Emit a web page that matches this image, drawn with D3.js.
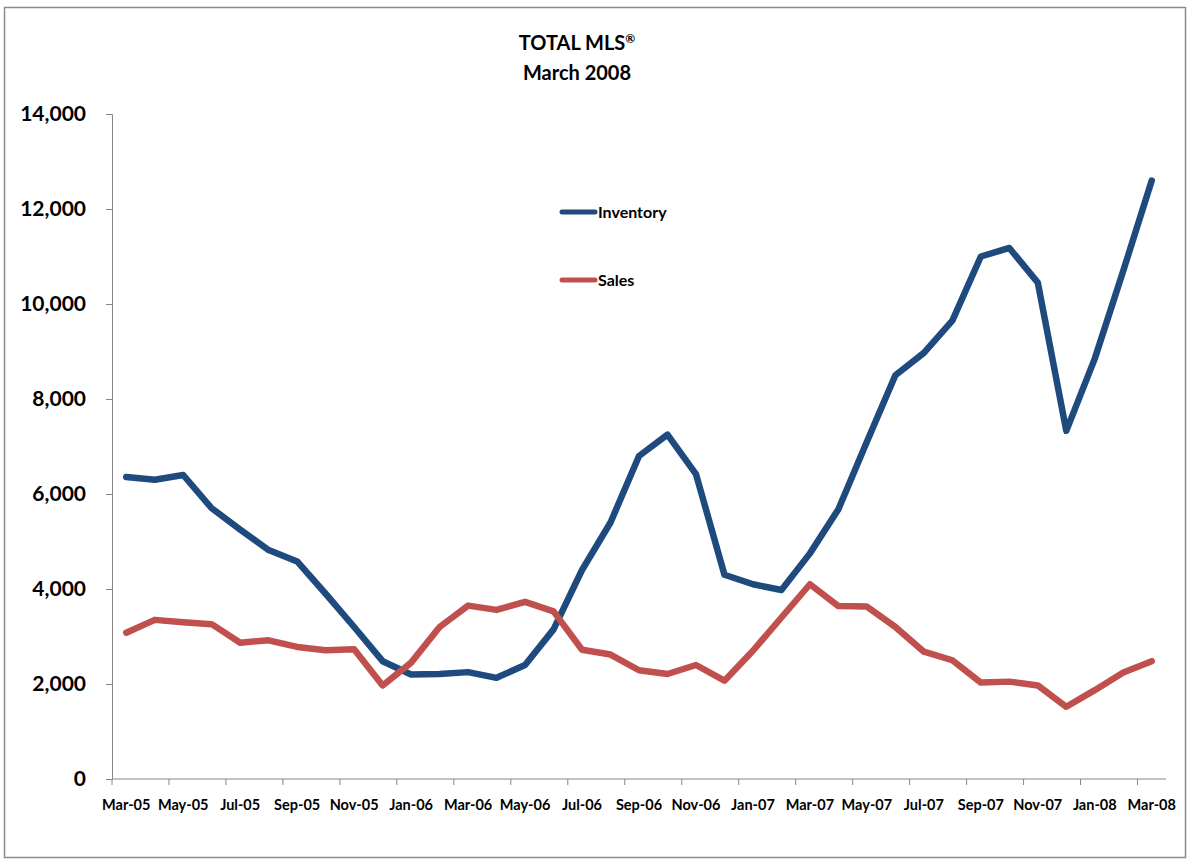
<!DOCTYPE html>
<html>
<head>
<meta charset="utf-8">
<script src="https://cdn.jsdelivr.net/npm/d3@7"></script>
<style>
  html, body { margin: 0; padding: 0; background: #fff; }
  svg { display: block; }
  text { font-family: Lato, "Open Sans", "Liberation Sans", sans-serif; font-weight: bold; fill: #000; }
</style>
</head>
<body>
<svg id="chart" width="1188" height="861"></svg>
<script>
// Monthly categories, Mar-05 through Mar-08
const months = ["Mar-05","Apr-05","May-05","Jun-05","Jul-05","Aug-05","Sep-05","Oct-05","Nov-05","Dec-05",
  "Jan-06","Feb-06","Mar-06","Apr-06","May-06","Jun-06","Jul-06","Aug-06","Sep-06","Oct-06","Nov-06","Dec-06",
  "Jan-07","Feb-07","Mar-07","Apr-07","May-07","Jun-07","Jul-07","Aug-07","Sep-07","Oct-07","Nov-07","Dec-07",
  "Jan-08","Feb-08","Mar-08"];

const inventory = [6360, 6300, 6400, 5700, 5250, 4820, 4580, 3900, 3200, 2480,
  2200, 2210, 2250, 2130, 2400, 3150, 4400, 5400, 6800, 7250, 6420, 4300,
  4100, 3980, 4750, 5680, 7100, 8500, 8970, 9650, 11000, 11180, 10450, 7330,
  8850, 10700, 12600];

const sales = [3080, 3350, 3300, 3260, 2870, 2920, 2780, 2710, 2730, 1970,
  2450, 3200, 3650, 3560, 3730, 3530, 2720, 2620, 2290, 2210, 2400, 2070,
  2700, 3400, 4100, 3640, 3630, 3200, 2680, 2500, 2030, 2050, 1970, 1520,
  1870, 2240, 2480];

const yTicks = [0, 2000, 4000, 6000, 8000, 10000, 12000, 14000];

const seriesList = [
  { name: "Inventory", values: inventory, color: "#1F4A7E" },
  { name: "Sales", values: sales, color: "#C0504D" }
];

const svg = d3.select("#chart");
const plot = { left: 112, right: 1166, top: 114, bottom: 779 };

// Outer chart frame
svg.append("rect")
  .attr("x", 4.5).attr("y", 7.5)
  .attr("width", 1181).attr("height", 850)
  .attr("fill", "none").attr("stroke", "#8c8c8c").attr("stroke-width", 1.5);

const x = d3.scaleBand().domain(months).range([plot.left, plot.right]).padding(0);
const y = d3.scaleLinear().domain([0, 14000]).range([plot.bottom, plot.top]);
const cx = m => x(m) + x.bandwidth() / 2;

// Title
const title = svg.append("text").attr("text-anchor", "middle").style("font-size", "20px");
const t1 = title.append("tspan").attr("x", 577).attr("y", 50);
t1.append("tspan").text("TOTAL MLS");
t1.append("tspan").attr("dy", -7).style("font-size", "12px").text("®");
title.append("tspan").attr("x", 577).attr("y", 80).text("March 2008");

// Y axis
const yAxis = svg.append("g")
  .attr("transform", `translate(${plot.left},0)`)
  .call(d3.axisLeft(y).tickValues(yTicks).tickSize(6).tickPadding(20).tickFormat(d3.format(",")));
yAxis.select(".domain").attr("stroke", "#868686");
yAxis.selectAll(".tick line").attr("stroke", "#868686");
yAxis.selectAll(".tick text").style("font-size", "21px").attr("fill", "#000");

// X axis: ticks on category boundaries every two months, labels every two months
const xAxisG = svg.append("g").attr("transform", `translate(0,${plot.bottom})`);
xAxisG.append("line")
  .attr("x1", plot.left).attr("x2", plot.right)
  .attr("stroke", "#868686");
xAxisG.selectAll("line.tick")
  .data(months.filter((m, i) => i % 2 === 0))
  .join("line").attr("class", "tick")
  .attr("x1", m => x(m)).attr("x2", m => x(m))
  .attr("y1", 0).attr("y2", 6)
  .attr("stroke", "#868686");
xAxisG.selectAll("text")
  .data(months.filter((m, i) => i % 2 === 0))
  .join("text")
  .attr("x", m => cx(m)).attr("y", 31)
  .attr("text-anchor", "middle")
  .style("font-size", "14.5px")
  .text(m => m);

// Lines
const line = d3.line().x((d, i) => cx(months[i])).y(d => y(d)).curve(d3.curveLinear);
svg.selectAll("path.series")
  .data(seriesList)
  .join("path").attr("class", "series")
  .attr("d", s => line(s.values))
  .attr("fill", "none")
  .attr("stroke", s => s.color)
  .attr("stroke-width", 6.5)
  .attr("stroke-linejoin", "round")
  .attr("stroke-linecap", "round");

// Legend
const legend = svg.append("g");
seriesList.forEach((s, i) => {
  const ly = 212 + i * 68;
  legend.append("line")
    .attr("x1", 562).attr("x2", 595).attr("y1", ly).attr("y2", ly)
    .attr("stroke", s.color).attr("stroke-width", 5).attr("stroke-linecap", "round");
  legend.append("text")
    .attr("x", 598).attr("y", ly + 6)
    .style("font-size", "16px")
    .text(s.name);
});
</script>
</body>
</html>
